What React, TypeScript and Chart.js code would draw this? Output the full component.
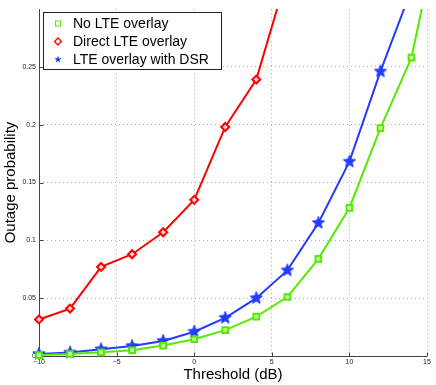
import React, { useEffect, useRef } from "react";
import { Chart, registerables } from "chart.js";
Chart.register(...registerables);

const SERIES_NAMES = ["No LTE overlay", "Direct LTE overlay", "LTE overlay with DSR"];
const NO_LTE_X = [-10, -8, -6, -4, -2, 0, 2, 4, 6, 8, 10, 12, 14, 16];
const NO_LTE_Y = [0.0008, 0.0017, 0.0032, 0.005, 0.009, 0.0145, 0.0224, 0.034, 0.051, 0.084, 0.128, 0.197, 0.258, 0.385];
const DIRECT_X = [-10, -8, -6, -4, -2, 0, 2, 4, 6];
const DIRECT_Y = [0.0316, 0.041, 0.077, 0.088, 0.107, 0.135, 0.198, 0.239, 0.33];
const DSR_X = [-10, -8, -6, -4, -2, 0, 2, 4, 6, 8, 10, 12, 14];
const DSR_Y = [0.0018, 0.003, 0.0058, 0.0086, 0.013, 0.021, 0.033, 0.05, 0.074, 0.115, 0.168, 0.246, 0.317];
const X_TICKS = [-10, -5, 0, 5, 10, 15];
const Y_TICKS = [0, 0.05, 0.1, 0.15, 0.2, 0.25];

const GREEN = "rgb(85,235,0)";
const RED = "rgb(255,0,0)";
const BLUE = "rgb(35,60,255)";
const FONT = "Liberation Sans, Arial, Helvetica, sans-serif";

function starPath(ctx: CanvasRenderingContext2D, cx: number, cy: number, ro: number, ri: number) {
  ctx.beginPath();
  for (let i = 0; i < 10; i++) {
    const r = i % 2 === 0 ? ro : ri;
    const a = -Math.PI / 2 + (i * Math.PI) / 5;
    const x = cx + r * Math.cos(a);
    const y = cy + r * Math.sin(a);
    if (i === 0) ctx.moveTo(x, y);
    else ctx.lineTo(x, y);
  }
  ctx.closePath();
}

function makeStar(size: number, ro: number, ri: number) {
  const c = document.createElement("canvas");
  c.width = size;
  c.height = size;
  const ctx = c.getContext("2d")!;
  starPath(ctx, size / 2, size / 2, ro, ri);
  ctx.fillStyle = BLUE;
  ctx.fill();
  ctx.strokeStyle = BLUE;
  ctx.lineWidth = 1;
  ctx.stroke();
  return c;
}

const toPts = (xs: number[], ys: number[]) => xs.map((x, i) => ({ x, y: ys[i] }));

const axesAndTicks = {
  id: "axesAndTicks",
  beforeDatasetsDraw(chart: any) {
    const { ctx, chartArea, scales } = chart;
    ctx.save();
    ctx.setLineDash([]);
    ctx.strokeStyle = "#444";
    ctx.lineWidth = 1;
    const L = Math.round(chartArea.left) + 0.5;
    const B = Math.round(chartArea.bottom) + 0.5;
    ctx.beginPath();
    ctx.moveTo(L, chartArea.top);
    ctx.lineTo(L, B);
    ctx.lineTo(chartArea.right, B);
    ctx.stroke();
    X_TICKS.forEach((t) => {
      const px = Math.round(scales.x.getPixelForValue(t)) + 0.5;
      ctx.beginPath();
      ctx.moveTo(px, B);
      ctx.lineTo(px, B - 4);
      ctx.stroke();
    });
    Y_TICKS.forEach((t) => {
      const py = Math.round(scales.y.getPixelForValue(t)) + 0.5;
      ctx.beginPath();
      ctx.moveTo(L, py);
      ctx.lineTo(L + 4, py);
      ctx.stroke();
    });
    ctx.restore();
  },
};

const boxLegend = {
  id: "boxLegend",
  afterDraw(chart: any) {
    const { ctx } = chart;
    const x0 = 43.5, y0 = 12.5, w = 178, h = 57;
    ctx.save();
    ctx.setLineDash([]);
    ctx.fillStyle = "#fff";
    ctx.fillRect(x0, y0, w, h);
    ctx.strokeStyle = "#222";
    ctx.lineWidth = 1;
    ctx.strokeRect(x0, y0, w, h);
    const rows = [23.5, 41.5, 59.5];
    const mx = 58;
    ctx.font = `14px ${FONT}`;
    ctx.textBaseline = "middle";
    ctx.textAlign = "left";
    chart.data.datasets.forEach((ds: any, i: number) => {
      const cy = rows[i];
      ctx.lineWidth = 1;
      if (i === 0) {
        ctx.strokeStyle = GREEN;
        ctx.strokeRect(mx - 2.5, cy - 2.5, 5, 5);
      } else if (i === 1) {
        ctx.strokeStyle = RED;
        ctx.lineWidth = 1.3;
        ctx.beginPath();
        ctx.moveTo(mx, cy - 3.5);
        ctx.lineTo(mx + 3.5, cy);
        ctx.lineTo(mx, cy + 3.5);
        ctx.lineTo(mx - 3.5, cy);
        ctx.closePath();
        ctx.stroke();
      } else {
        ctx.fillStyle = BLUE;
        starPath(ctx, mx, cy, 3.8, 1.6);
        ctx.fill();
      }
      ctx.fillStyle = "#000";
      ctx.fillText(ds.label, 73, cy + 0.5);
    });
    ctx.restore();
  },
};

const CLIP = { left: 12, bottom: 12, top: 0, right: 0 };

export default function App() {
  const ref = useRef<HTMLCanvasElement | null>(null);
  useEffect(() => {
    if (!ref.current) return;
    const star = makeStar(18, 6.5, 2.8);
    const chart = new Chart(ref.current, {
      type: "line",
      data: {
        datasets: [
          {
            label: SERIES_NAMES[0],
            data: toPts(NO_LTE_X, NO_LTE_Y),
            borderColor: GREEN,
            backgroundColor: "rgba(0,0,0,0)",
            borderWidth: 2,
            pointStyle: "rect",
            pointRadius: 4,
            pointBorderWidth: 2,
            pointBorderColor: GREEN,
            pointBackgroundColor: "rgba(200,255,170,1)",
            tension: 0,
            clip: CLIP,
          },
          {
            label: SERIES_NAMES[1],
            data: toPts(DIRECT_X, DIRECT_Y),
            borderColor: RED,
            backgroundColor: "rgba(0,0,0,0)",
            borderWidth: 2,
            pointStyle: "rectRot",
            pointRadius: 4,
            pointBorderWidth: 2,
            pointBorderColor: RED,
            pointBackgroundColor: "rgba(255,210,210,1)",
            tension: 0,
            clip: CLIP,
          },
          {
            label: SERIES_NAMES[2],
            data: toPts(DSR_X, DSR_Y),
            borderColor: BLUE,
            backgroundColor: "rgba(0,0,0,0)",
            borderWidth: 2,
            pointStyle: star as any,
            pointRadius: 7,
            tension: 0,
            clip: CLIP,
          },
        ],
      },
      options: {
        animation: false,
        responsive: false,
        maintainAspectRatio: false,
        layout: { padding: { top: 8, right: 8, left: 0, bottom: 0 } },
        plugins: { legend: { display: false }, tooltip: { enabled: false } },
        scales: {
          x: {
            type: "linear",
            min: -10,
            max: 15,
            afterBuildTicks: (s: any) => {
              s.ticks = X_TICKS.map((v) => ({ value: v }));
            },
            afterFit: (s: any) => {
              s.height = 29;
            },
            ticks: {
              autoSkip: false,
              maxRotation: 0,
              padding: 2,
              color: "#222",
              font: { size: 7, family: FONT },
              callback: (v: any) => (Number(v) < 0 ? "\u2212" + Math.abs(Number(v)) : String(v)),
            },
            grid: {
              drawTicks: false,
              color: (c: any) => (c.index === 0 ? "rgba(0,0,0,0)" : "#b0b0b0"),
              lineWidth: 1,
            },
            border: { display: false, dash: [1, 3] },
            title: {
              display: true,
              text: "Threshold (dB)",
              color: "#000",
              font: { size: 15, family: FONT, lineHeight: 1.2 },
              padding: { top: 0, bottom: 1 },
            },
          },
          y: {
            type: "linear",
            min: 0,
            max: 0.3,
            afterBuildTicks: (s: any) => {
              s.ticks = Y_TICKS.map((v) => ({ value: v }));
            },
            afterFit: (s: any) => {
              s.width = 39;
            },
            ticks: {
              autoSkip: false,
              padding: 3,
              color: "#222",
              font: { size: 7, family: FONT },
              callback: (v: any) => String(Math.round(Number(v) * 100) / 100),
            },
            grid: {
              drawTicks: false,
              color: (c: any) => (c.index === 0 ? "rgba(0,0,0,0)" : "#b0b0b0"),
              lineWidth: 1,
            },
            border: { display: false, dash: [1, 3] },
            title: {
              display: true,
              text: "Outage probability",
              color: "#000",
              font: { size: 15, family: FONT, lineHeight: 1.2 },
              padding: { top: 2, bottom: 0 },
            },
          },
        },
      },
      plugins: [axesAndTicks, boxLegend],
    } as any);
    return () => chart.destroy();
  }, []);
  return (
    <div style={{ position: "absolute", left: 0, top: 0, width: 436, height: 385, background: "#fff" }}>
      <canvas ref={ref} width={436} height={385} style={{ width: 436, height: 385, display: "block" }} />
    </div>
  );
}
